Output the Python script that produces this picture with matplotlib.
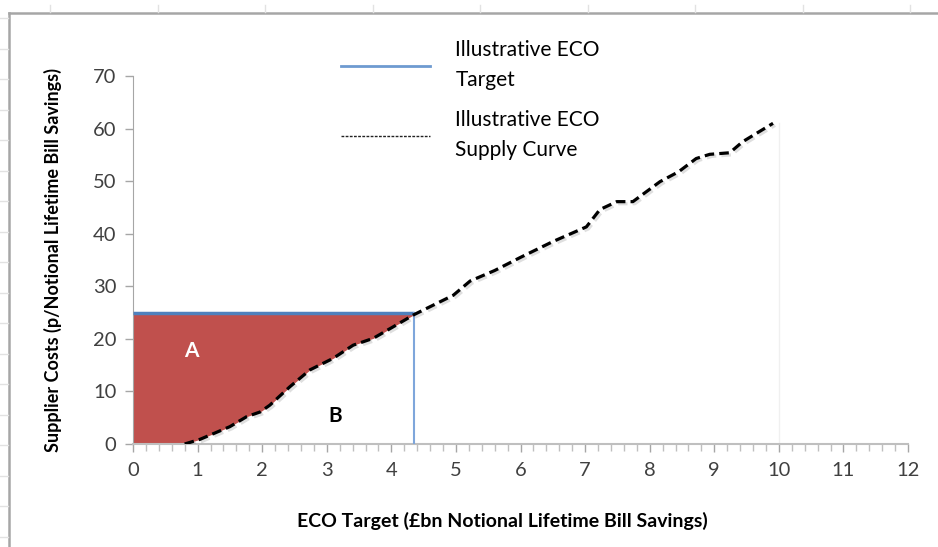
import numpy as np
import matplotlib
matplotlib.use("Agg")
import matplotlib.pyplot as plt
import matplotlib.patheffects as pe
from matplotlib.lines import Line2D

plt.rcParams["font.family"] = ["Lato", "DejaVu Sans"]

# ---- data ----
supply_x = [0.8, 1.04, 1.5, 1.76, 1.97, 2.12, 2.43, 2.74, 3.10, 3.41, 3.72, 4.03,
            4.35, 4.96, 5.22, 5.6, 6.0, 6.5, 7.02, 7.23, 7.49, 7.74, 8.16, 8.45,
            8.72, 8.93, 9.24, 9.44, 9.91]
supply_y = [0.0, 0.9, 3.3, 5.2, 6.1, 7.4, 10.9, 14.1, 16.3, 18.8, 20.1, 22.3,
            24.6, 28.3, 31.0, 33.0, 35.5, 38.5, 41.3, 44.6, 46.1, 46.1, 49.9, 51.8,
            54.3, 55.1, 55.4, 57.5, 61.0]
target_x = 4.35
target_y = 25
baseline_x = [0, 10]
baseline_y = [0, 0]

x_ticks = list(range(0, 13))
y_ticks = list(range(0, 80, 10))

W, H = 938, 547
fig = plt.figure(figsize=(W / 100, H / 100), dpi=100)
ax = fig.add_axes([133 / W, 1 - 444 / H, (908 - 133) / W, (444 - 76) / H])

# shaded area A: between target price and the supply curve
sx = np.array(supply_x)
sy = np.array(supply_y)
fill_x = np.concatenate([[0], sx[sx <= target_x], [target_x]])
fill_y = np.concatenate([[0], sy[sx <= target_x], [target_y]])
ax.fill_between(fill_x, fill_y, target_y, color="#C0504D", lw=0, zorder=1)

# faint grey baseline + faint vertical at end of curve
ax.plot(baseline_x, baseline_y, color="#BBBBBB", lw=1.2, ls=(0, (4, 2)), zorder=2)
ax.plot([supply_x[-1] + 0.1] * 2, [0, supply_y[-1]], color="#F0F0F0", lw=1, zorder=1)

# target lines
ax.plot([0, target_x], [target_y, target_y], color="#4F81BD", lw=2.5, zorder=3,
        solid_capstyle="butt")
ax.plot([target_x, target_x], [target_y, 0], color="#7EA6DB", lw=1.5, zorder=3)

# supply curve with soft shadow
ax.plot(supply_x, supply_y, color="black", lw=2.3, ls=(0, (3, 1.6)), zorder=4,
        path_effects=[pe.SimpleLineShadow(offset=(1.5, -1.5), alpha=0.25, shadow_color="grey"),
                      pe.Normal()])

ax.text(0.91, 17.7, "A", color="white", fontsize=15, fontweight="bold",
        ha="center", va="center")
ax.text(3.13, 5.3, "B", color="black", fontsize=15, fontweight="bold",
        ha="center", va="center")

ax.set_xlim(0, 12)
ax.set_ylim(0, 70)
ax.set_xticks(x_ticks)
ax.set_yticks(y_ticks)
ax.set_xticks(np.arange(0, 12.01, 0.2), minor=True)
ax.tick_params(axis="both", labelsize=14.5, colors="#404040", length=6, width=1,
               direction="out")
ax.tick_params(axis="x", which="both", color="#A6A6A6", pad=7)
ax.tick_params(axis="x", which="minor", length=5, width=1, color="#BFBFBF")
ax.tick_params(axis="y", color="#A6A6A6", pad=6)
for s in ["top", "right"]:
    ax.spines[s].set_visible(False)
ax.spines["left"].set_color("#A6A6A6")
ax.spines["bottom"].set_color("#BFBFBF")
ax.spines["bottom"].set_linewidth(1.5)

ax.set_xlabel("ECO Target (£bn Notional Lifetime Bill Savings)", fontsize=14,
              fontweight="bold")
ax.xaxis.set_label_coords((502 - 133) / (908 - 133), -(512 - 444) / (444 - 76))
ax.set_ylabel("Supplier Costs (p/Notional Lifetime Bill Savings)", fontsize=13,
              fontweight="bold", labelpad=22)

handles = [Line2D([], [], color="#6E9AD0", lw=2),
           Line2D([], [], color="#222222", lw=1, ls=(0, (2, 1)))]
labels = ["Illustrative ECO\nTarget", "Illustrative ECO\nSupply Curve"]
leg = fig.legend(handles, labels, loc="upper left", bbox_to_anchor=(322 / W, 1 - 21 / H),
                 frameon=False, fontsize=15, handlelength=4.3, handletextpad=1.2,
                 labelspacing=0.95)
for t in leg.get_texts():
    t.set_linespacing(1.65)

# spreadsheet frame and faint cell grid around the chart
fig.add_artist(Line2D([9 / W, 1], [1 - 13 / H] * 2, color="#A6A6A6", lw=1.8))
fig.add_artist(Line2D([9 / W] * 2, [0, 1 - 13 / H], color="#A6A6A6", lw=1.8))
for gx in np.arange(50, W, 107.5):
    fig.add_artist(Line2D([gx / W] * 2, [1 - 12 / H, 1 - 5 / H], color="#E2E2E2", lw=1))
for gy in np.arange(18, H, 30.5):
    fig.add_artist(Line2D([0, 8 / W], [1 - gy / H] * 2, color="#E2E2E2", lw=1))

fig.savefig("out.png", dpi=100)
